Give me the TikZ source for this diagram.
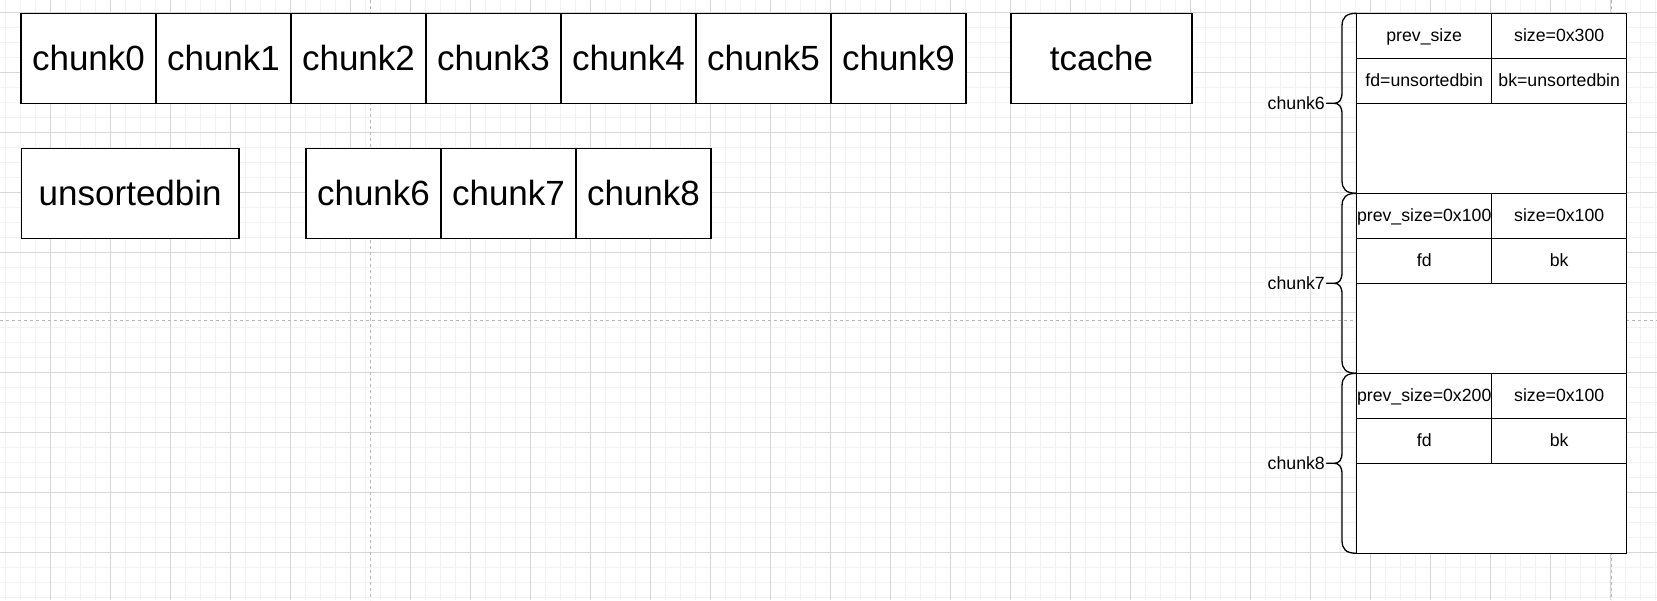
\documentclass[tikz,border=0pt]{standalone}
\usepackage{fontspec}
\setmainfont{Liberation Sans}
\tikzset{
  cell/.style={draw=black, line width=1.3pt, fill=white, inner sep=0pt, anchor=center},
  bigtext/.style={font=\fontsize{35}{42}\selectfont, text height=31.7pt, text depth=7.4pt},
  smalltext/.style={font=\fontsize{17.7}{21}\selectfont, text height=16pt, text depth=3.75pt, inner sep=0pt},
  bigcell/.style={cell, bigtext, minimum width=135pt, minimum height=90pt},
  halfcell/.style={cell, smalltext, minimum width=135pt, minimum height=45pt},
  bodycell/.style={cell, minimum width=270pt, minimum height=90pt},
  minorgrid/.style={line width=1.5pt, color=black!5},
  majorgrid/.style={line width=0.9pt, color=black!16},
  pagebreak/.style={line width=1pt, color=black!28, dash pattern=on 3pt off 3pt},
  bracestyle/.style={draw=black, line width=1.3pt, line join=round}
}
\begin{document}
\begin{tikzpicture}[x=1pt,y=-1pt]
\useasboundingbox (0,0) rectangle (1657,600);
\fill[white] (0,0) rectangle (1657,600);
% grid
\foreach \i in {0,...,110} { \draw[minorgrid] (5.3+15*\i,0) -- (5.3+15*\i,600); }
\foreach \j in {0,...,39} { \draw[minorgrid] (0,12.3+15*\j) -- (1657,12.3+15*\j); }
\foreach \i in {0,...,26} { \draw[majorgrid] (50.3+60*\i,0) -- (50.3+60*\i,600); }
\foreach \j in {0,...,9} { \draw[majorgrid] (0,12.3+60*\j) -- (1657,12.3+60*\j); }
% page breaks
\draw[pagebreak] (370.7,0) -- (370.7,600);
\draw[pagebreak] (1611.3,0) -- (1611.3,600);
\draw[pagebreak] (0,320.7) -- (1657,320.7);
% top row
\node[bigcell] (c0) at (88.5,58.3) {chunk0};
\node[bigcell] (c1) at (223.5,58.3) {chunk1};
\node[bigcell] (c2) at (358.5,58.3) {chunk2};
\node[bigcell] (c3) at (493.5,58.3) {chunk3};
\node[bigcell] (c4) at (628.5,58.3) {chunk4};
\node[bigcell] (c5) at (763.5,58.3) {chunk5};
\node[bigcell] (c9) at (898.5,58.3) {chunk9};
\node[bigcell, minimum width=181pt] (tc) at (1101.5,58.3) {tcache};
% second row
\node[bigcell, minimum width=217.6pt] (ub) at (130.2,193.5) {unsortedbin};
\node[bigcell] (u6) at (373.5,193.5) {chunk6};
\node[bigcell] (u7) at (508.5,193.5) {chunk7};
\node[bigcell] (u8) at (643.5,193.5) {chunk8};
% memory layout
\foreach \k/\lab/\ps/\sz/\fd/\bk in {0/chunk6/prev\_size/size=0x300/fd=unsortedbin/bk=unsortedbin,
    1/chunk7/prev\_size=0x100/size=0x100/fd/bk,
    2/chunk8/prev\_size=0x200/size=0x100/fd/bk} {
  \pgfmathsetmacro\T{13.3+180*\k}
  \node[halfcell] (ps\k) at (1424.2,\T+22.5) {\ps};
  \node[halfcell] (sz\k) at (1559.2,\T+22.5) {\sz};
  \node[halfcell] (fd\k) at (1424.2,\T+67.5) {\fd};
  \node[halfcell] (bk\k) at (1559.2,\T+67.5) {\bk};
  \node[bodycell] (body\k) at (1491.7,\T+135) {};
  \draw[bracestyle] (1356.7,\T) .. controls (1346,\T) and (1342,\T+4) .. (1342,\T+13)
     -- (1342,\T+79) .. controls (1342,\T+87) and (1339,\T+90) .. (1334,\T+90)
     -- (1326.5,\T+90) -- (1334,\T+90)
     .. controls (1339,\T+90) and (1342,\T+93) .. (1342,\T+101)
     -- (1342,\T+167) .. controls (1342,\T+176) and (1346,\T+180) .. (1356.7,\T+180);
  \node[smalltext, anchor=east] (lab\k) at (1325,\T+90) {\lab};
}
\end{tikzpicture}
\end{document}
